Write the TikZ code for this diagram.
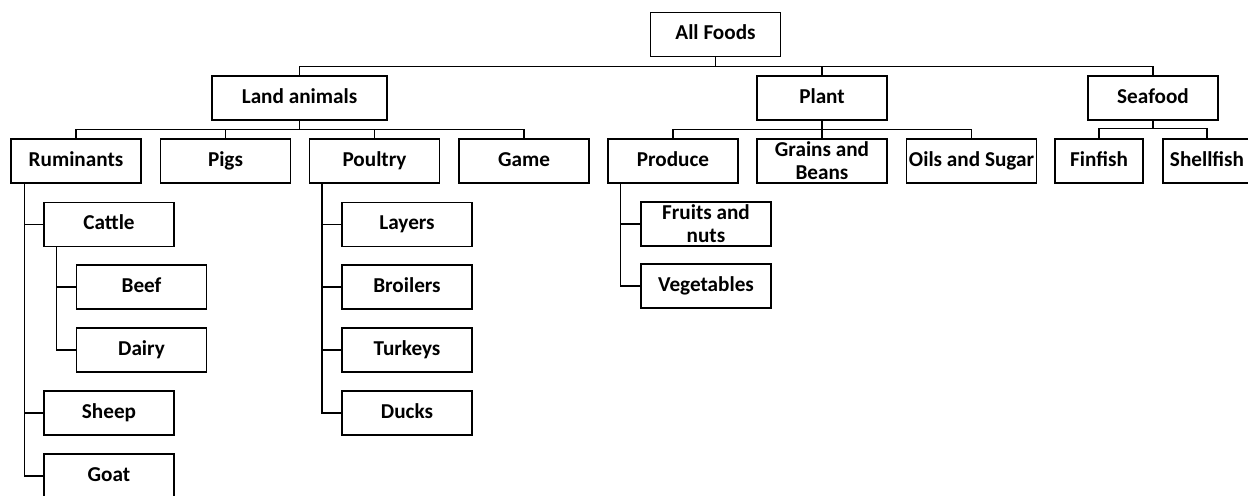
\documentclass[tikz,border=0pt]{standalone}
\usepackage{fontspec}
\setmainfont{Carlito}
\begin{document}
\begin{tikzpicture}[x=0.5pt,y=-0.5pt,line width=0.6pt,box/.style={draw,rectangle,minimum width=#1,minimum height=22pt,inner sep=1pt,align=center,text height=1.5ex,text depth=.4ex,font=\bfseries\fontsize{10.6}{11.6}\selectfont},box/.default=65pt,two/.style={text height=,text depth=}]
\useasboundingbox (0,0) rectangle (1248,495);
% top level
\node[box](all) at(715.5,34.5) {All Foods};
\node[box=87.5pt](land) at(299.5,98) {Land animals};
\node[box](plant) at(822,98) {Plant};
\node[box](sea) at(1153,98) {Seafood};
\foreach \n in {land,plant,sea} {
   \draw (all.south) -- ++(0,9) -| (\n.north);
}
% second level
\foreach \n/\x/\l in %
{rum/76/Ruminants,pigs/225.5/Pigs,poul/374.5/Poultry,game/524/Game} {
   \node[box](\n) at(\x,161) {\l};
   \draw (land.south) -- ++(0,9) -| (\n.north);
}
\node[box](prod) at(673,161) {Produce};
\node[box,two](grain) at(822,161) {Grains and\\Beans};
\node[box](oils) at(971.5,161) {Oils and Sugar};
\foreach \n in {prod,grain,oils} {
   \draw (plant.south) -- ++(0,9) -| (\n.north);
}
\foreach \n/\x/\l in %
{fin/1099/Finfish,shell/1207/Shellfish} {
   \node[box=44pt](\n) at(\x,161) {\l};
   \draw (sea.south) -- ++(0,8) -| (\n.north);
}
% third level
\foreach \n/\y/\l in %
{cattle/224.5/Cattle,sheep/413/Sheep,goat/476/Goat} {
   \node[box](\n) at(109,\y) {\l};
   \draw ([xshift=7pt]rum.south west) |- (\n.west);
}
\foreach \n/\y/\l in %
{beef/287/Beef,dairy/350/Dairy} {
   \node[box](\n) at(141.5,\y) {\l};
   \draw ([xshift=6.5pt]cattle.south west) |- (\n.west);
}
\foreach \n/\y/\l in %
{layers/224.5/Layers,broilers/287/Broilers,turkeys/350/Turkeys,ducks/413/Ducks} {
   \node[box](\n) at(407,\y) {\l};
   \draw ([xshift=6.5pt]poul.south west) |- (\n.west);
}
\node[box,two](fruits) at(706,224) {Fruits and\\nuts};
\node[box](veg) at(706,286) {Vegetables};
\foreach \n in {fruits,veg} {
   \draw ([xshift=6.5pt]prod.south west) |- (\n.west);
}
\end{tikzpicture}
\end{document}
